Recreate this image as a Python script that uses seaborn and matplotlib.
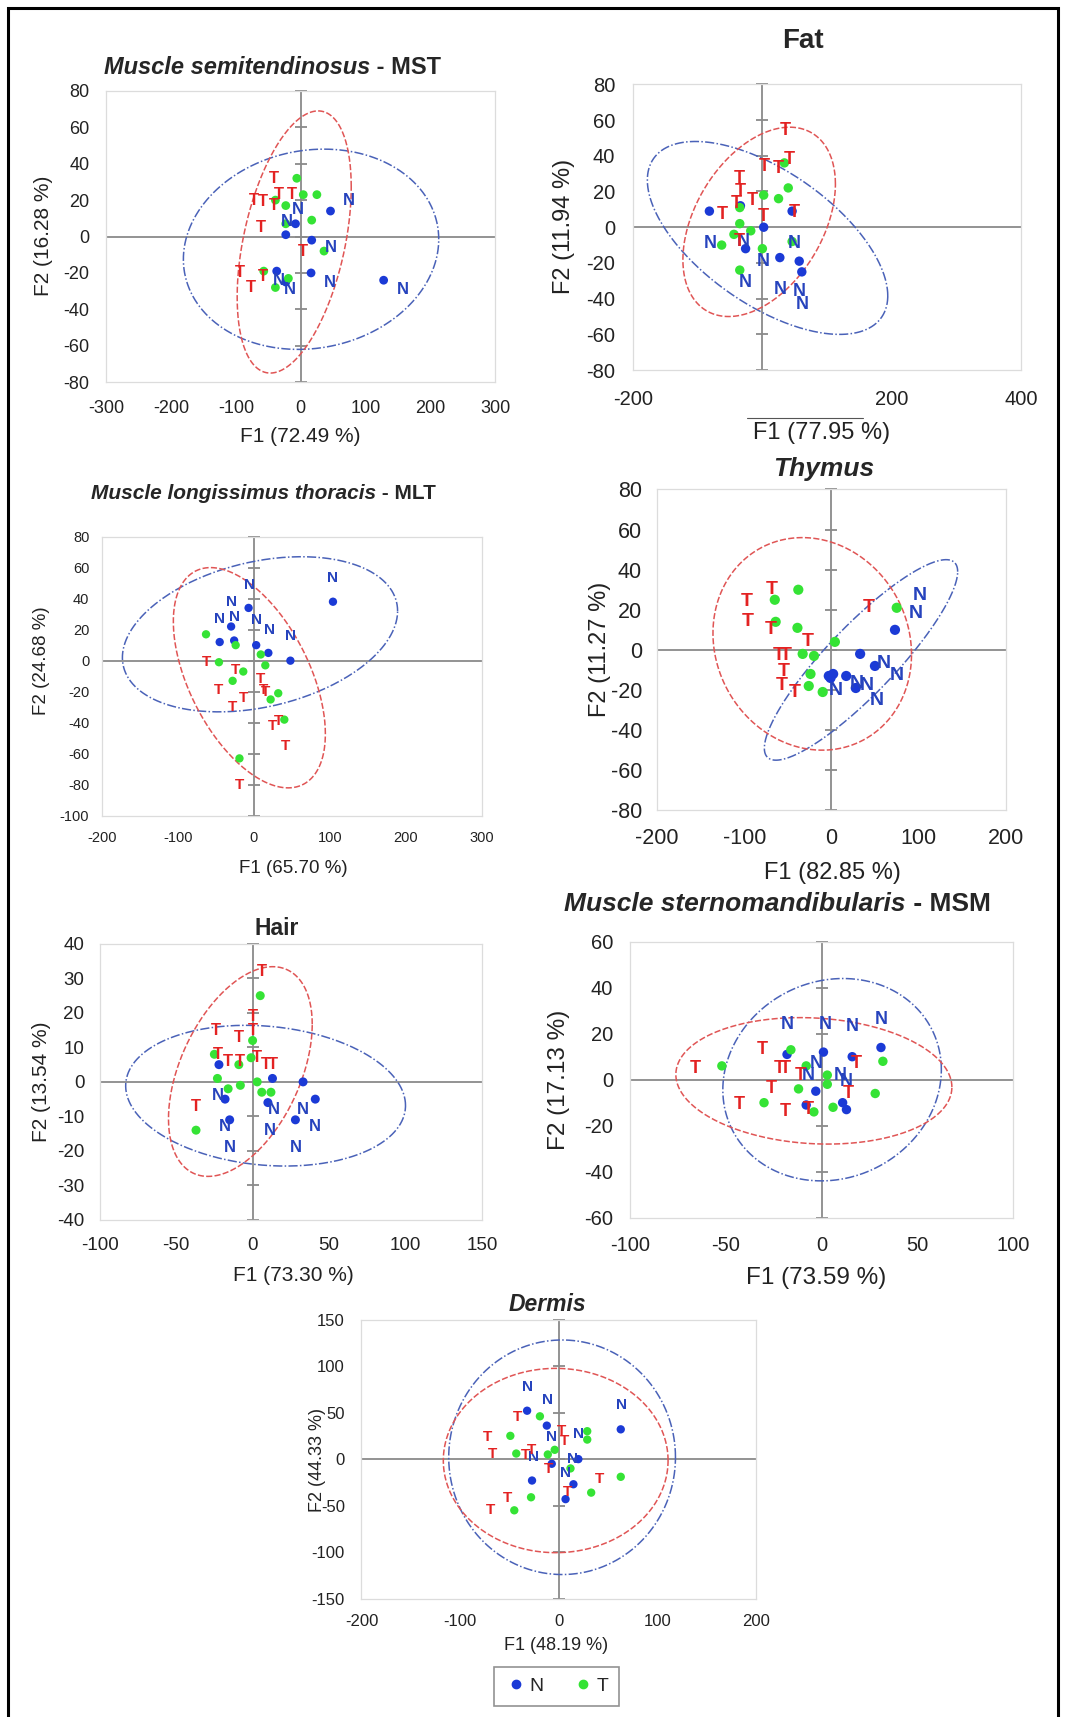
import numpy as np
import pandas as pd
import matplotlib
matplotlib.use("Agg")
import matplotlib.pyplot as plt
import seaborn as sns
from matplotlib.patches import Rectangle
from matplotlib.lines import Line2D

sns.set_style("white")
plt.rcParams["font.family"] = ["Liberation Sans", "DejaVu Sans"]
plt.rcParams["axes.unicode_minus"] = False

## DATA (F1, F2 scores) ##
# ellipses: (cx, cy, half-width x, half-height y, correlation)

mst_dots_n = [(46, 14), (-8, 7), (-23, 1), (17, -2), (16, -20), (-37, -19), (128, -24), (-23, -25)]
mst_dots_t = [(-6, 32), (4, 23), (25, 23), (-23, 17), (17, 9), (36, -8), (-57, -19), (-39, -28), (-19, -23), (-23, 7), (-39, 20)]
mst_lab_n = [(75, 20), (-5, 15), (-22, 8), (46, -6), (-33, -24), (-16, -29), (45, -25), (157, -29)]
mst_lab_t = [(-41, 32), (-72, 20), (-59, 19), (-41, 17), (-33, 23), (-13, 23), (-62, 5), (3, -8), (-94, -20), (-77, -28), (-59, -22)]
mst_ell_n = (16, -7, 197, 55, 0.1)
mst_ell_t = (-10, -3, 88, 72, 0.42)

fat_dots_n = [(-82, 9), (-34, 12), (2, 0), (-26, -12), (27, -17), (57, -19), (61, -25), (46, 9)]
fat_dots_t = [(34, 36), (2, 18), (25, 16), (40, 22), (-35, 11), (-35, 2), (-44, -4), (-18, -2), (-63, -10), (0, -12), (-35, -24), (46, -8)]
fat_lab_n = [(-80, -9), (-30, -8), (1, -19), (49, -9), (-27, -31), (28, -35), (57, -36), (62, -43)]
fat_lab_t = [(35, 54), (41, 38), (3, 34), (25, 33), (-35, 27), (-34, 20), (-16, 15), (-41, 13), (-62, 7), (1, 6), (49, 8), (-35, -8)]
fat_ell_n = (8, -6, 186, 54, -0.6)
fat_ell_t = (-5, 3, 118, 53, 0.4)

mlt_dots_n = [(-7, 34), (-30, 22), (-45, 12), (-26, 13), (3, 10), (19, 5), (48, 0), (104, 38)]
mlt_dots_t = [(-63, 17), (-24, 10), (-46, -1), (9, 4), (15, -3), (-14, -7), (-28, -13), (32, -21), (22, -25), (40, -38), (-19, -63)]
mlt_lab_n = [(-6, 49), (-30, 38), (-45, 27), (-25, 28), (4, 26), (20, 20), (48, 16), (104, 53)]
mlt_lab_t = [(-63, -1), (-24, -6), (-46, -19), (-14, -24), (-28, -30), (9, -12), (15, -20), (24, -42), (32, -39), (41, -55), (-19, -80), (12, -19)]
mlt_ell_n = (8, 17, 181, 50, 0.3)
mlt_ell_t = (-6, -11, 100, 71, -0.51)

thy_dots_n = [(73, 10), (33, -2), (50, -8), (2, -12), (-3, -13), (17, -13), (28, -19), (-1, -14)]
thy_dots_t = [(-38, 30), (-65, 25), (-64, 14), (-39, 11), (4, 4), (-33, -2), (-20, -3), (-24, -12), (-26, -18), (-10, -21), (75, 21)]
thy_lab_n = [(101, 27), (97, 18), (60, -7), (75, -13), (5, -20), (29, -17), (41, -18), (52, -25)]
thy_lab_t = [(-97, 24), (-69, 30), (-96, 14), (-70, 10), (-27, 4), (-60, -3), (-52, -3), (-55, -11), (-57, -18), (-42, -21), (43, 21)]
thy_ell_n = (34, -5, 111, 50, 0.88)
thy_ell_t = (-22, 3, 114, 53, -0.1)

hair_dots_n = [(-22, 5), (13, 1), (33, 0), (-18, -5), (10, -6), (41, -5), (-15, -11), (28, -11)]
hair_dots_t = [(5, 25), (0, 12), (-1, 7), (-9, 5), (-25, 8), (-23, 1), (-16, -2), (-8, -1), (3, 0), (6, -3), (12, -3), (-37, -14)]
hair_lab_n = [(-23, -4), (14, -8), (33, -8), (41, -13), (-18, -13), (11, -14), (-15, -19), (28, -19)]
hair_lab_t = [(6, 32), (0, 19), (-24, 15), (-9, 13), (0, 15), (-23, 8), (-16, 6), (-8, 6), (3, 7), (9, 5), (13, 5), (-37, -7)]
hair_ell_n = (8.5, -4, 91.5, 20.4, -0.14)
hair_ell_t = (-8, 3, 47, 30.4, 0.45)

msm_dots_n = [(-18, 11), (1, 12), (16, 10), (31, 14), (-3, -5), (-8, -11), (11, -10), (13, -13)]
msm_dots_t = [(-52, 6), (-16, 13), (-8, 6), (3, 2), (3, -2), (-12, -4), (-30, -10), (-4, -14), (6, -12), (32, 8), (28, -6)]
msm_lab_n = [(-18, 24), (2, 24), (16, 23), (31, 26), (-3, 7), (-7, 2), (10, 2), (13, -1)]
msm_lab_t = [(-66, 5), (-31, 13), (-22, 5), (-19, 5), (-11, 2), (-26, -4), (-43, -11), (-19, -14), (-7, -13), (18, 7), (14, -6)]
msm_ell_n = (5.5, 0, 57, 44, 0.1)
msm_ell_t = (-4, -0.5, 72, 27.5, -0.1)

der_dots_n = [(-32, 52), (-12, 36), (63, 32), (-7, -5), (20, 0), (-27, -23), (15, -27), (7, -43)]
der_dots_t = [(-19, 46), (-49, 25), (29, 30), (29, 21), (-43, 6), (-11, 5), (-4, 10), (12, -10), (63, -19), (33, -36), (-28, -41), (-45, -55)]
der_lab_n = [(-32, 78), (-11, 63), (64, 58), (-7, 24), (20, 27), (-26, 2), (14, 0), (7, -15)]
der_lab_t = [(-42, 45), (-72, 24), (-67, 5), (-34, 4), (-28, 10), (3, 30), (6, 20), (-10, -11), (41, -21), (9, -35), (-52, -42), (-69, -55)]
der_ell_n = (3.5, 2, 115, 126, 0.0)
der_ell_t = (-3, -1.5, 114, 99, 0.0)

# axis ticks
mst_xt, mst_yt = list(range(-300, 301, 100)), list(range(-80, 81, 20))
fat_xt, fat_yt = [-200, 0, 200, 400], list(range(-80, 81, 20))
mlt_xt, mlt_yt = list(range(-200, 301, 100)), list(range(-100, 81, 20))
thy_xt, thy_yt = list(range(-200, 201, 100)), list(range(-80, 81, 20))
hair_xt, hair_yt = list(range(-100, 151, 50)), list(range(-40, 41, 10))
msm_xt, msm_yt = list(range(-100, 101, 50)), list(range(-60, 61, 20))
der_xt, der_yt = list(range(-200, 201, 100)), list(range(-150, 151, 50))

# layout is written in a 975 x 1568 grid (the reference size)
W, H = 975.0, 1568.0
def fx(x):
    return x / W
def fy(y):
    return 1 - y / H

BLUE = "#1b3ad6"
GREEN = "#35e335"
RED_TXT = "#e32222"
BLUE_TXT = "#2643bd"
RED_ELL = "#e05555"
BLUE_ELL = "#4a62b8"
AXC = "#8a8a8a"

fig = plt.figure(figsize=(10.68, 17.17), dpi=100)


def ellipse(ax, e, color, ls):
    cx, cy, rx, ry, rho = e
    t = np.linspace(0, 2 * np.pi, 300)
    ax.plot(cx + rx * np.cos(t), cy + ry * np.sin(t + np.arcsin(rho)),
            color=color, lw=1.1, ls=ls, zorder=2, clip_on=False)


def panel(box, xt, yt, dots_n, dots_t, lab_n, lab_t, ell_n, ell_t,
          fs_tick, fs_nt, dot_s, padx, pady, hide_x0=False):
    l, r, t, b = box
    ax = fig.add_axes([fx(l), fy(b), (r - l) / W, (b - t) / H])
    df = pd.DataFrame(dots_n + dots_t, columns=["F1", "F2"])
    df["grp"] = ["N"] * len(dots_n) + ["T"] * len(dots_t)
    sns.scatterplot(data=df, x="F1", y="F2", hue="grp", palette={"N": BLUE, "T": GREEN},
                    s=dot_s, linewidth=0, legend=False, ax=ax, zorder=3)
    for x, y in lab_n:
        ax.text(x, y, "N", color=BLUE_TXT, fontsize=fs_nt, weight="bold", ha="center", va="center", zorder=4)
    for x, y in lab_t:
        ax.text(x, y, "T", color=RED_TXT, fontsize=fs_nt, weight="bold", ha="center", va="center", zorder=4)
    ellipse(ax, ell_n, BLUE_ELL, (0, (6, 1.5, 1, 1.5)))
    ellipse(ax, ell_t, RED_ELL, (0, (4, 1.5)))
    ax.axhline(0, color=AXC, lw=1.3, zorder=1)
    ax.axvline(0, color=AXC, lw=1.3, zorder=1)
    ax.plot(np.zeros(len(yt)), yt, ls="none", marker="_", ms=9, mew=1.3, color=AXC, zorder=1, clip_on=False)
    ax.set_xlim(xt[0], xt[-1])
    ax.set_ylim(yt[0], yt[-1])
    ax.set_xticks(xt)
    if hide_x0:
        ax.set_xticklabels(["" if v == 0 else str(v) for v in xt])
    ax.set_yticks(yt)
    ax.set_xlabel("")
    ax.set_ylabel("")
    ax.tick_params(length=0, labelsize=fs_tick, labelcolor="#222222")
    ax.tick_params(axis="x", pad=padx)
    ax.tick_params(axis="y", pad=pady)
    for s in ax.spines.values():
        s.set_color("#dcdcdc")
        s.set_linewidth(0.9)
    return ax


ax1 = panel((97, 452, 83, 349), mst_xt, mst_yt, mst_dots_n, mst_dots_t, mst_lab_n, mst_lab_t,
            mst_ell_n, mst_ell_t, 13, 12, 40, 13, 12)
ax2 = panel((578, 932, 77, 338), fat_xt, fat_yt, fat_dots_n, fat_dots_t, fat_lab_n, fat_lab_t,
            fat_ell_n, fat_ell_t, 14.5, 13, 46, 14, 13, hide_x0=True)
ax3 = panel((93, 440, 490, 745), mlt_xt, mlt_yt, mlt_dots_n, mlt_dots_t, mlt_lab_n, mlt_lab_t,
            mlt_ell_n, mlt_ell_t, 10.5, 11, 36, 11, 9)
ax4 = panel((600, 918, 447, 740), thy_xt, thy_yt, thy_dots_n, thy_dots_t, thy_lab_n, thy_lab_t,
            thy_ell_n, thy_ell_t, 15.5, 14, 54, 13, 11)
ax5 = panel((91, 440, 862, 1114), hair_xt, hair_yt, hair_dots_n, hair_dots_t, hair_lab_n, hair_lab_t,
            hair_ell_n, hair_ell_t, 13.5, 12, 42, 12, 11)
ax6 = panel((575, 925, 860, 1112), msm_xt, msm_yt, msm_dots_n, msm_dots_t, msm_lab_n, msm_lab_t,
            msm_ell_n, msm_ell_t, 14.5, 13, 46, 13, 12)
ax7 = panel((330, 690, 1205, 1460), der_xt, der_yt, der_dots_n, der_dots_t, der_lab_n, der_lab_t,
            der_ell_n, der_ell_t, 12, 11, 36, 11, 12)

# titles: italic tissue name + plain abbreviation
def two_part_title(x, y, it_part, plain_part, fs):
    t1 = fig.text(fx(x), fy(y), it_part, style="italic", weight="bold", fontsize=fs, ha="left", va="center")
    ax1.annotate(plain_part, xy=(1, 0), xycoords=t1, va="bottom", ha="left", weight="bold", fontsize=fs)

two_part_title(95, 62, "Muscle semitendinosus", " - MST", 17)
two_part_title(83, 451, "Muscle longissimus thoracis", " - MLT", 15)
two_part_title(515, 826, "Muscle sternomandibularis", " - MSM", 19)
fig.text(fx(733), fy(37), "Fat", weight="bold", fontsize=20, ha="center", va="center")
fig.text(fx(752), fy(428), "Thymus", weight="bold", style="italic", fontsize=19, ha="center", va="center")
fig.text(fx(253), fy(848), "Hair", weight="bold", fontsize=16.5, ha="center", va="center")
fig.text(fx(500), fy(1191), "Dermis", weight="bold", style="italic", fontsize=16.5, ha="center", va="center")

# axis labels
xlabs = [("F1 (72.49 %)", 274, 399, 15), ("F1 (77.95 %)", 750, 395, 17), ("F1 (65.70 %)", 268, 793, 13.5),
         ("F1 (82.85 %)", 760, 797, 17), ("F1 (73.30 %)", 268, 1165, 15), ("F1 (73.59 %)", 745, 1167, 17.5),
         ("F1 (48.19 %)", 508, 1503, 13)]
ylabs = [("F2 (16.28 %)", 40, 215, 15), ("F2 (11.94 %)", 515, 207, 17), ("F2 (24.68 %)", 38, 603, 13.5),
         ("F2 (11.27 %)", 548, 593, 17), ("F2 (13.54 %)", 38, 988, 15), ("F2 (17.13 %)", 510, 986, 17.5),
         ("F2 (44.33 %)", 290, 1333, 13)]
for txt, x, y, fs in xlabs:
    fig.text(fx(x), fy(y), txt, fontsize=fs, ha="center", va="center", color="#222222")
for txt, x, y, fs in ylabs:
    fig.text(fx(x), fy(y), txt, fontsize=fs, ha="center", va="center", rotation=90, color="#222222")

# thin line above the Fat axis title
fig.add_artist(Line2D([fx(682), fx(788)], [fy(382), fy(382)], color="#555555", lw=0.8))

# legend under the Dermis panel
handles = [Line2D([], [], ls="none", marker="o", ms=6, color=BLUE, label="N"),
           Line2D([], [], ls="none", marker="o", ms=6, color=GREEN, label="T")]
leg = fig.legend(handles=handles, loc="center", bbox_to_anchor=(fx(508), fy(1540)), ncol=2,
                 fontsize=14, frameon=True, fancybox=False, edgecolor="#777777",
                 handletextpad=0.1, columnspacing=1.4, borderpad=0.55, handlelength=1.2)
leg.get_frame().set_linewidth(1.2)

# outer frame
fig.add_artist(Rectangle((8 / 1068, -0.02), 1050 / 1068, 1.02 - 8 / 1717, fill=False,
                         edgecolor="black", lw=2.2, transform=fig.transFigure))

fig.savefig("out.png", dpi=100)
